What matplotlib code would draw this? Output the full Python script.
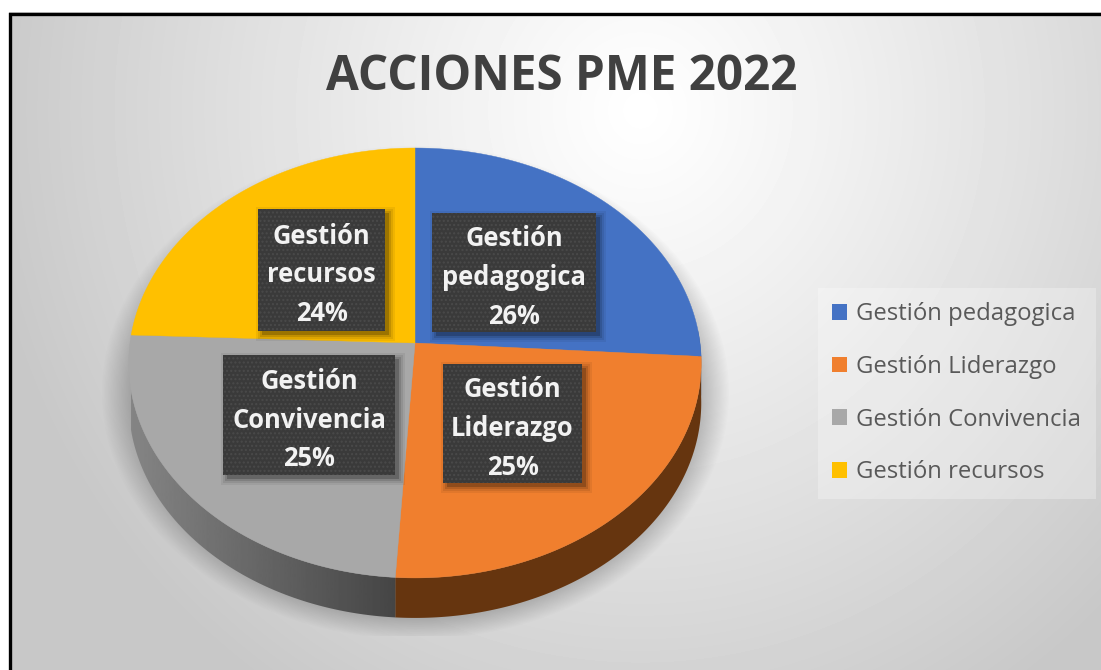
import numpy as np
import matplotlib
matplotlib.use("Agg")
import matplotlib.pyplot as plt
from matplotlib.patches import Patch, Polygon, Rectangle

W, H = 1101, 670

categories = ["Gestión pedagogica", "Gestión Liderazgo", "Gestión Convivencia", "Gestión recursos"]
values = [26, 25, 25, 24]
# unrounded shares behind the printed percentages, read from the slice edges
shares = [26.0, 25.0, 24.6, 24.4]
label_names = ["Gestión\npedagogica", "Gestión\nLiderazgo", "Gestión\nConvivencia", "Gestión\nrecursos"]
colors = ["#4472c4", "#f07f2e", "#a8a8a8", "#ffc000"]
side_colors = ["#2c4a80", "#66350f", "#6a6a6a", "#a67c00"]

# label boxes in picture pixels: x0, x1, y0, y1
boxes = [(432, 596, 213, 332), (443, 582, 364, 483), (223, 395, 355, 475), (258, 385, 209, 331)]

# pie geometry in pixels, top face is a perspective disc
CX, CY = 415, 343
RX, S, K = 285, 213.1, 0.0929
DEPTH = 40


def project(theta):
    # theta clockwise from 12 o'clock
    u, v = np.sin(theta), np.cos(theta)
    d = 1 + K * v
    return CX + RX * u / d, CY - S * v / d


plt.rcParams["font.family"] = ["Open Sans", "DejaVu Sans"]
fig = plt.figure(figsize=(W / 100, H / 100), dpi=100)
ax = fig.add_axes([0, 0, 1, 1])
ax.axis("off")

# background
xx, yy = np.meshgrid(np.arange(W), np.arange(H))
dist = np.hypot(xx - 640, (yy - 110) / 1.05)
bg = 255 - 55 * np.clip(dist / 660, 0, 1) ** 1.1
ax.imshow(bg, cmap="gray", vmin=0, vmax=255, extent=(0, W, H, 0), aspect="auto", zorder=0)
ax.add_patch(Rectangle((0, 0), 9, H, fc="white", ec="none", zorder=1))
ax.add_patch(Rectangle((0, 0), W, 12, fc="white", ec="none", zorder=1))
ax.plot([9.5, 9.5, W], [H, 13.5, 13.5], color="black", lw=2.4, zorder=1.5, solid_joinstyle="miter")

# soft shadow under the pie
sh = np.hypot((xx - 415) / 305, (yy - 392) / 240)
alpha = np.clip((1.03 - sh) / 0.13, 0, 1) * 0.42
alpha[yy > 635] = 0
rgba = np.zeros((H, W, 4))
rgba[..., :3] = 0.25
rgba[..., 3] = alpha
ax.imshow(rgba, extent=(0, W, H, 0), aspect="auto", zorder=2)

# slices
fractions = np.array(shares) / sum(shares)
edges = np.concatenate([[0], np.cumsum(fractions)]) * 2 * np.pi
for i, color in enumerate(colors):
    t = np.linspace(edges[i], edges[i + 1], 120)
    px, py = project(t)

    # visible part of the wall only on the lower half
    keep = (px > 132) & (py > 330) | (t > np.pi / 2) & (t < 3 * np.pi / 2)
    if keep.sum() > 1:
        wx, wy = px[keep], py[keep]
        wall = np.column_stack([np.r_[wx, wx[::-1]], np.r_[wy, wy[::-1] + DEPTH]])
        if categories[i] == "Gestión Convivencia":
            clip = Polygon(wall, transform=ax.transData, fc="none", ec="none")
            ax.add_patch(clip)
            grad = np.linspace(0.52, 0.27, 256).reshape(1, -1)
            im = ax.imshow(grad, cmap="gray", vmin=0, vmax=1, aspect="auto",
                           extent=(131, 397, H, 0), zorder=3)
            im.set_clip_path(clip)
        else:
            ax.add_patch(Polygon(wall, fc=side_colors[i], ec="none", zorder=3))

    face = np.column_stack([np.r_[CX, px], np.r_[CY, py]])
    ax.add_patch(Polygon(face, fc=color, ec=color, lw=0.3, zorder=4))

ax.set_xlim(0, W)
ax.set_ylim(H, 0)

# data labels
for name, val, (x0, x1, y0, y1) in zip(label_names, values, boxes):
    for grow, a in [(6, 0.06), (4, 0.08), (2, 0.12), (0, 0.2)]:
        ax.add_patch(Rectangle((x0 + 4 - grow, y0 + 4 - grow), x1 - x0 + 2 * grow, y1 - y0 + 2 * grow,
                               fc="black", ec="none", alpha=a, zorder=5))
    ax.add_patch(Rectangle((x0, y0), x1 - x0, y1 - y0, fc="#3a3a3a", ec="#4a4a4a", lw=0, hatch="....", zorder=6))
    ax.text((x0 + x1) / 2, (y0 + y1) / 2 + 5, f"{name}\n{val}%", color="#f2f2f2", fontsize=18.4, fontweight="bold",
            ha="center", va="center", linespacing=1.55, zorder=7)

ax.text(562, 77, "ACCIONES PME 2022", color="#404040", fontsize=34.3, fontweight="bold",
        ha="center", va="center", zorder=7)

handles = [Patch(fc=c, ec="none", label=n) for c, n in zip(colors, categories)]
leg = ax.legend(handles=handles, loc="upper left", bbox_to_anchor=(818, 288), bbox_transform=ax.transData,
                frameon=True, fancybox=False, facecolor="white", edgecolor="none", framealpha=0.28,
                fontsize=17.2, labelcolor="#595959", handlelength=0.63, handleheight=0.63,
                handletextpad=0.38, labelspacing=1.2, borderaxespad=0, borderpad=0.6)
leg.set_zorder(7)

fig.savefig("out.png", dpi=100)
